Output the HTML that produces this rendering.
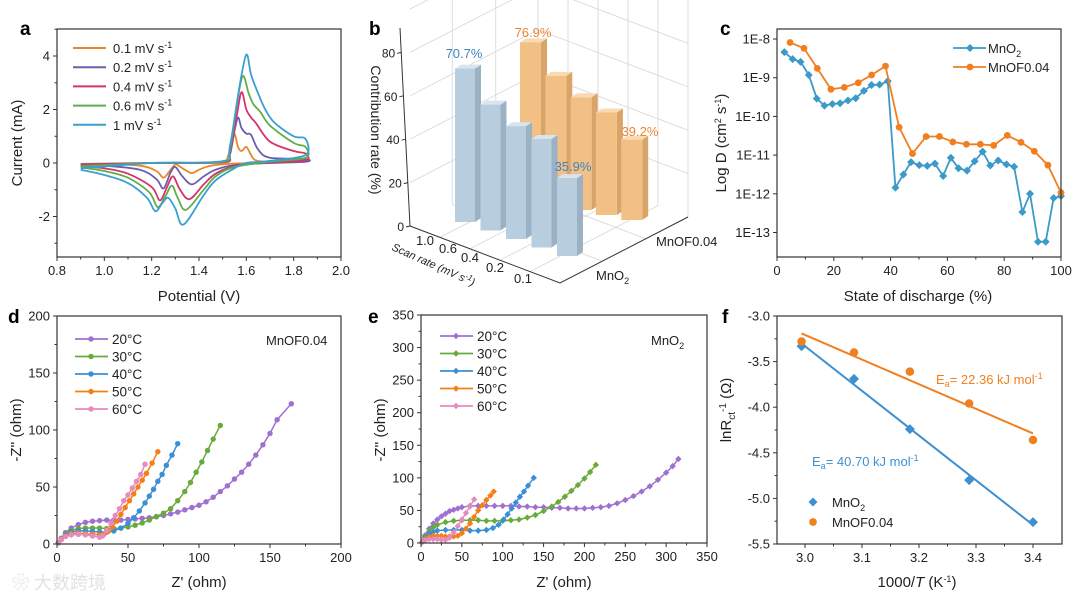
<!DOCTYPE html>
<html><head><meta charset="utf-8">
<style>
html,body{margin:0;padding:0;background:#fff;}
svg{display:block;font-family:"Liberation Sans","Noto Sans CJK SC",sans-serif;}
</style></head>
<body>
<svg id="fig" width="1080" height="602" viewBox="0 0 1080 602" xmlns="http://www.w3.org/2000/svg">
<rect x="0" y="0" width="1080" height="602" fill="#fff"/>
</svg>
<script>
// ---------- Panel a data: CV loops [V, I] ----------
const cvLabels = ["0.1 mV s","0.2 mV s","0.4 mV s","0.6 mV s","1 mV s"];
const cv01 = [[0.9,-0.03],[1.2,0.0],[1.5,0.02],[1.52,0.2],[1.54,0.8],[1.55,1.1],[1.565,0.6],[1.58,0.45],[1.60,0.6],[1.62,0.3],[1.64,0.1],[1.7,0.05],[1.85,0.1],[1.85,0.05],[1.7,0.0],[1.55,-0.02],[1.45,-0.1],[1.40,-0.25],[1.37,-0.38],[1.34,-0.25],[1.31,-0.08],[1.30,-0.05],[1.28,-0.25],[1.25,-0.55],[1.22,-0.3],[1.15,-0.1],[1.0,-0.05],[0.9,-0.05]];
const cv02 = [[0.9,-0.05],[1.2,0.0],[1.5,0.03],[1.53,0.3],[1.55,1.2],[1.565,1.7],[1.58,1.3],[1.60,1.1],[1.62,1.05],[1.65,0.5],[1.7,0.2],[1.85,0.15],[1.85,0.05],[1.7,0.0],[1.55,-0.08],[1.47,-0.25],[1.42,-0.5],[1.37,-0.8],[1.33,-0.5],[1.30,-0.15],[1.28,-0.35],[1.25,-0.95],[1.22,-0.6],[1.15,-0.25],[1.0,-0.1],[0.9,-0.08]];
const cv04 = [[0.9,-0.08],[1.2,0.0],[1.5,0.03],[1.53,0.4],[1.56,1.8],[1.58,2.65],[1.60,2.0],[1.62,1.7],[1.64,1.5],[1.7,0.8],[1.8,0.45],[1.85,0.35],[1.85,0.1],[1.7,0.03],[1.55,-0.12],[1.47,-0.4],[1.42,-0.8],[1.36,-1.35],[1.32,-1.0],[1.29,-0.5],[1.265,-0.9],[1.235,-1.4],[1.20,-0.9],[1.10,-0.4],[1.0,-0.2],[0.9,-0.12]];
const cv06 = [[0.9,-0.12],[1.2,0.0],[1.5,0.05],[1.53,0.5],[1.56,2.2],[1.585,3.25],[1.61,2.6],[1.63,2.2],[1.66,1.9],[1.7,1.4],[1.8,0.75],[1.85,0.6],[1.85,0.2],[1.7,0.05],[1.55,-0.15],[1.47,-0.5],[1.42,-1.0],[1.345,-1.75],[1.31,-1.3],[1.285,-0.85],[1.255,-1.3],[1.225,-1.65],[1.19,-1.1],[1.10,-0.55],[1.0,-0.3],[0.9,-0.17]];
const cv10 = [[0.9,-0.2],[1.2,0.0],[1.5,0.07],[1.53,0.6],[1.57,2.8],[1.60,4.05],[1.62,3.3],[1.65,2.6],[1.68,2.0],[1.72,1.5],[1.8,1.0],[1.85,0.9],[1.85,0.3],[1.7,0.08],[1.6,0.0],[1.55,-0.2],[1.47,-0.65],[1.42,-1.2],[1.335,-2.3],[1.30,-1.7],[1.27,-1.3],[1.245,-1.5],[1.215,-1.8],[1.18,-1.3],[1.10,-0.75],[1.0,-0.45],[0.9,-0.25]];

// ---------- Panel b data ----------
const scanRates = ["1.0","0.6","0.4","0.2","0.1"];
const mno2Contrib = [70.7,58,52,50,35.9];
const mnofContrib = [76.9,63,55,50,39.2];
const zTicks = [0,20,40,60,80];

// ---------- Panel c data: [SOD %, log10 D] ----------
const dMnO2 = [[2.6,-8.34],[5.5,-8.52],[8.3,-8.59],[11.2,-8.93],[14.0,-9.54],[16.7,-9.72],[19.5,-9.68],[22.2,-9.66],[25.0,-9.59],[27.7,-9.53],[30.6,-9.34],[33.3,-9.19],[36.1,-9.18],[39.0,-9.09],[41.7,-11.84],[44.5,-11.50],[47.2,-11.18],[50.1,-11.26],[52.9,-11.28],[55.6,-11.22],[58.5,-11.54],[61.2,-11.07],[63.9,-11.34],[66.9,-11.40],[69.6,-11.16],[72.4,-10.91],[75.1,-11.27],[77.9,-11.14],[80.8,-11.24],[83.5,-11.30],[86.4,-12.47],[89.1,-12.00],[91.9,-13.24],[94.6,-13.24],[97.4,-12.11],[100,-12.06]];
const dMnOF = [[4.6,-8.09],[9.5,-8.24],[14.2,-8.76],[19.0,-9.30],[23.7,-9.25],[28.6,-9.13],[33.3,-8.93],[38.2,-8.70],[43.0,-10.28],[47.7,-10.96],[52.5,-10.52],[57.2,-10.52],[61.9,-10.66],[66.7,-10.72],[71.6,-10.72],[76.3,-10.75],[81.1,-10.49],[85.9,-10.67],[90.6,-10.90],[95.4,-11.26],[100,-11.97]];

// ---------- Panel d data (MnOF0.04) ----------
const dT20 = [[1,1],[3,5],[6,10],[10,14],[15,17],[20,19],[25,20],[30,20.5],[35,21],[40,21],[45,21],[50,21.5],[55,22],[60,22.5],[65,23],[70,24],[75,25],[80,26.5],[85,28],[90,30],[95,32],[100,34],[105,37],[110,41],[115,46],[120,51],[125,57],[130,63],[135,70],[140,78],[145,87],[150,97],[155,109],[165,123]];
const dT30 = [[1,1],[3,5],[6,9],[10,12],[15,13.5],[20,14],[25,14],[30,14],[35,13.5],[40,13.5],[45,14],[50,15],[55,16.5],[60,18.5],[65,21],[70,24],[75,27],[80,31],[85,38],[90,46],[94,54],[98,63],[102,72],[106,82],[110,92],[115,104]];
const dT40 = [[1,1],[3,4],[6,8],[10,10.5],[15,11.5],[20,11.5],[25,11],[30,10.5],[35,10.5],[40,11.5],[45,14],[50,18],[54,23],[58,29],[62,36],[65,42],[68,48],[71,55],[74,61],[77,69],[81,78],[85,88]];
const dT50 = [[1,1],[3,4],[6,7],[10,9],[15,9.5],[20,9],[25,8.5],[30,8],[33,8.5],[36,11],[39,15],[42,20],[45,26],[48,32],[51,38],[54,44],[57,50],[60,56],[63,62],[67,71],[71,81]];
const dT60 = [[1,1],[3,4],[6,6.5],[10,8],[15,8.5],[20,8],[25,7],[30,6],[32,7],[35,12],[38,18],[41,25],[44,31],[47,38],[50,43],[53,49],[56,55],[59,61],[62,70]];

// ---------- Panel e data (MnO2) ----------
const eT20 = [[1,1],[5,12],[10,22],[15,30],[20,36],[25,41],[30,45],[35,49],[40,51],[45,53],[50,55],[60,57],[70,57],[80,57],[90,57],[100,57],[110,57],[120,56],[130,56],[140,55],[150,55],[160,54],[170,54],[180,53],[190,53],[200,53],[210,54],[220,55],[230,57],[240,61],[250,66],[260,72],[270,79],[280,87],[290,97],[300,108],[308,118],[315,129]];
const eT30 = [[1,1],[5,10],[10,18],[15,24],[20,28],[30,32],[40,34],[50,35],[60,35],[70,35],[80,34],[90,34],[100,34],[110,35],[120,36],[130,39],[140,43],[150,49],[160,56],[168,63],[176,71],[184,80],[192,89],[200,99],[207,109],[214,120]];
const eT40 = [[1,1],[5,8],[10,14],[15,17],[20,19],[30,20],[40,20],[50,20],[60,19],[70,19],[80,20],[88,23],[95,28],[101,36],[106,44],[111,53],[116,62],[121,71],[126,79],[131,88],[138,100]];
const eT50 = [[1,1],[5,6],[10,9],[15,11],[20,11],[25,11],[30,10],[35,10],[40,10],[45,11],[50,15],[55,22],[60,30],[65,40],[70,50],[75,58],[80,66],[85,73],[89,79]];
const eT60 = [[1,1],[5,4],[10,6],[15,6],[20,6],[25,5],[30,5],[35,8],[40,16],[45,26],[50,36],[55,46],[60,56],[65,67]];
const tempLabels = ["20°C","30°C","40°C","50°C","60°C"];

// ---------- Panel f data ----------
const invT = [2.994,3.086,3.184,3.288,3.40];
const lnMnO2 = [-3.33,-3.69,-4.24,-4.80,-5.26];
const lnMnOF = [-3.28,-3.40,-3.61,-3.96,-4.36];

const NS = "http://www.w3.org/2000/svg";
const svg = document.getElementById('fig');
function mk(tag, attrs, name, parent) {
  const el = document.createElementNS(NS, tag);
  
  
  for (const k in attrs) el.setAttribute(k, attrs[k]);
  (parent || svg).appendChild(el);
  return el;
}
function txt(x, y, s, attrs, name, parent) {
  const a = Object.assign({x:x, y:y, 'font-size':13, fill:'#222'}, attrs || {});
  const el = mk('text', a, name, parent);
  el.innerHTML = s;
  return el;
}
function lin(a0, a1, p0, p1) { return v => p0 + (v - a0) / (a1 - a0) * (p1 - p0); }
function frame(L, T, R, B, name) {
  mk('rect', {x:L, y:T, width:R-L, height:B-T, fill:'none', stroke:'#333', 'stroke-width':1.2}, name);
}
function xTicks(sx, B, vals, fmt, minors, name) {
  vals.forEach(v => {
    mk('line', {x1:sx(v), x2:sx(v), y1:B, y2:B+4, stroke:'#333', 'stroke-width':1}, name+'-tick');
    txt(sx(v), B+18, fmt(v), {'text-anchor':'middle'}, name+'-label');
  });
  minors.forEach(v => mk('line', {x1:sx(v), x2:sx(v), y1:B, y2:B+2.5, stroke:'#333', 'stroke-width':1}, name+'-minor-tick'));
}
function yTicks(sy, L, vals, fmt, minors, name) {
  vals.forEach(v => {
    mk('line', {x1:L-4, x2:L, y1:sy(v), y2:sy(v), stroke:'#333', 'stroke-width':1}, name+'-tick');
    txt(L-7, sy(v)+4.5, fmt(v), {'text-anchor':'end'}, name+'-label');
  });
  minors.forEach(v => mk('line', {x1:L-2.5, x2:L, y1:sy(v), y2:sy(v), stroke:'#333', 'stroke-width':1}, name+'-minor-tick'));
}
function smoothPath(pts) {
  let d = 'M' + pts[0][0].toFixed(1) + ',' + pts[0][1].toFixed(1);
  for (let i = 0; i < pts.length - 1; i++) {
    const p0 = pts[Math.max(0,i-1)], p1 = pts[i], p2 = pts[i+1], p3 = pts[Math.min(pts.length-1,i+2)];
    const c1 = [p1[0]+(p2[0]-p0[0])/6, p1[1]+(p2[1]-p0[1])/6];
    const c2 = [p2[0]-(p3[0]-p1[0])/6, p2[1]-(p3[1]-p1[1])/6];
    d += 'C'+c1[0].toFixed(1)+','+c1[1].toFixed(1)+' '+c2[0].toFixed(1)+','+c2[1].toFixed(1)+' '+p2[0].toFixed(1)+','+p2[1].toFixed(1);
  }
  return d;
}
function polyPts(pts) { return pts.map(p => p[0].toFixed(1)+','+p[1].toFixed(1)).join(' '); }
function marker(shape, x, y, r, color, name) {
  if (shape === 'diamond') {
    mk('polygon', {points:`${x},${y-r} ${x+r},${y} ${x},${y+r} ${x-r},${y}`, fill:color}, name);
  } else {
    mk('circle', {cx:x, cy:y, r:r*0.85, fill:color}, name);
  }
}
function letter(x, y, s, name) { txt(x, y, s, {'font-size':19, 'font-weight':'bold', fill:'#000'}, name); }
function range(a, b, s) { const r = []; for (let v = a; v <= b + 1e-9; v += s) r.push(+v.toFixed(4)); return r; }

// ================= Panel a =================
(function(){
  const L=57,R=341,T=29,B=257;
  const sx = lin(0.8, 2.0, L, R), sy = lin(0, 4, 163, 56);
  const colors = ['#e8862a','#6a5fad','#d6336c','#5fae4a','#3aa0d0'];
  const series = [cv01, cv02, cv04, cv06, cv10];
  series.forEach((s, i) => {
    const p = s.map(d => [sx(d[0]), sy(d[1])]);
    mk('path', {d:smoothPath(p), fill:'none', stroke:colors[i], 'stroke-width':1.8}, 'cv-curve-'+i);
  });
  frame(L,T,R,B,'panel-a-frame');
  xTicks(sx, B, range(0.8,2.0,0.2), v=>v.toFixed(1), range(0.9,1.9,0.2), 'a-x');
  yTicks(sy, L, [-2,0,2,4], v=>String(v), [-3,-1,1,3,5], 'a-y');
  txt(199, 301, 'Potential (V)', {'text-anchor':'middle','font-size':15}, 'a-x-title');
  txt(0,0,'Current (mA)', {'text-anchor':'middle','font-size':15, transform:'translate(22,143) rotate(-90)'}, 'a-y-title');
  cvLabels.forEach((l, i) => {
    const y = 48 + i*19.2;
    mk('line', {x1:73, x2:106, y1:y, y2:y, stroke:colors[i], 'stroke-width':2}, 'a-legend-line');
    txt(113, y+5, l+'<tspan dy="-5" font-size="9">-1</tspan>', {'font-size':13}, 'a-legend-entry');
  });
  letter(20, 35, 'a', 'panel-a-letter');
})();

// ================= Panel b (3D bars) =================
(function(){
  const O=[410,226], S=[150,57], M=[128,-66], k=2.17;
  const P = (i,j,z) => [O[0]+i*S[0]+j*M[0], O[1]+i*S[1]+j*M[1]-z*k];
  const g = '#d6d6d6';
  // wall z grid
  zTicks.concat([100]).forEach(z => {
    const a=P(0,0,z), b=P(0,1,z), c=P(1,1,z);
    if (z>0) mk('polyline', {points:polyPts([a,b,c]), fill:'none', stroke:g, 'stroke-width':0.8}, 'b-wall-gridline');
  });
  [0.33,0.67,1].forEach(j => { const a=P(0,j,0); mk('line',{x1:a[0],y1:a[1],x2:a[0],y2:0,stroke:g,'stroke-width':0.8},'b-wall-vgrid'); });
  [0.2,0.4,0.6,0.8,1].forEach(i => { const a=P(i,1,0); mk('line',{x1:a[0],y1:a[1],x2:a[0],y2:0,stroke:g,'stroke-width':0.8},'b-wall-vgrid'); });
  // floor grid
  [0.2,0.4,0.6,0.8].forEach(i => { const a=P(i,0,0), b=P(i,1,0); mk('line',{x1:a[0],y1:a[1],x2:b[0],y2:b[1],stroke:g,'stroke-width':0.8},'b-floor-grid'); });
  [0.33,0.67].forEach(j => { const a=P(0,j,0), b=P(1,j,0); mk('line',{x1:a[0],y1:a[1],x2:b[0],y2:b[1],stroke:g,'stroke-width':0.8},'b-floor-grid'); });
  // axes
  const o=P(0,0,0), s1=P(1,0,0), m1=P(1,1,0);
  mk('line',{x1:o[0],y1:o[1],x2:400,y2:28,stroke:'#333','stroke-width':1},'b-z-axis');
  mk('polyline',{points:polyPts([o,s1,m1]),fill:'none',stroke:'#333','stroke-width':1},'b-floor-axes');
  zTicks.forEach(z => {
    const y = o[1]-z*k, x = o[0] - z*0.11;
    mk('line',{x1:x-4,y1:y+1,x2:x,y2:y,stroke:'#333'},'b-z-tick');
    txt(x-6, y+5, String(z), {'text-anchor':'end','font-size':12}, 'b-z-label');
  });
  txt(0,0,'Contribution rate (%)',{'text-anchor':'middle','font-size':14,transform:'translate(371,130) rotate(90)'},'b-z-title');
  const scanPos = [[425,245],[448,253],[470,262],[495,272],[523,283]];
  scanRates.forEach((r,i)=> txt(scanPos[i][0], scanPos[i][1], r, {'text-anchor':'middle','font-size':13}, 'b-scan-label'));
  txt(0,0,'Scan rate (mV s<tspan dy="-4" font-size="8">-1</tspan><tspan dy="4">)</tspan>',{'text-anchor':'middle','font-size':11,'font-style':'italic',transform:'translate(432,268) rotate(24)'},'b-scan-title');
  txt(596, 280, 'MnO<tspan dy="4" font-size="9">2</tspan>', {'font-size':13}, 'b-mno2-label');
  txt(656, 246, 'MnOF0.04', {'font-size':13}, 'b-mnof-label');
  function bar(xl, yb, v, w, cols, name, sc) {
    const h = v*sc, dx=6, dy=-4;
    mk('polygon',{points:polyPts([[xl+w,yb],[xl+w+dx,yb+dy],[xl+w+dx,yb-h+dy],[xl+w,yb-h]]),fill:cols[1]},name+'-side');
    mk('polygon',{points:polyPts([[xl,yb-h],[xl+w,yb-h],[xl+w+dx,yb-h+dy],[xl+dx,yb-h+dy]]),fill:cols[2]},name+'-top');
    mk('rect',{x:xl,y:yb-h,width:w,height:h,fill:cols[0]},name+'-front');
  }
  mnofContrib.forEach((v,i)=> bar(520+25.3*i, 200+5*i, v, 21, ['#f2c085','#d9a468','#f8dab3'], 'b-bar-mnof-'+i, 2.05));
  mno2Contrib.forEach((v,i)=> bar(455+25.5*i, 222+8.5*i, v, 20, ['#b8cedf','#9bb1c4','#d8e5ef'], 'b-bar-mno2-'+i, 2.17));
  txt(464, 58, mno2Contrib[0].toFixed(1)+'%', {'text-anchor':'middle','fill':'#3d85c0'}, 'b-value-label');
  txt(533, 37, mnofContrib[0].toFixed(1)+'%', {'text-anchor':'middle','fill':'#e8863a'}, 'b-value-label');
  txt(573, 171, mno2Contrib[4].toFixed(1)+'%', {'text-anchor':'middle','fill':'#3d85c0'}, 'b-value-label');
  txt(640, 136, mnofContrib[4].toFixed(1)+'%', {'text-anchor':'middle','fill':'#e8863a'}, 'b-value-label');
  letter(369, 35, 'b', 'panel-b-letter');
})();

// ================= Panel c =================
(function(){
  const L=777,R=1061,T=29,B=257;
  const sx = lin(0,100,L,R), sy = lin(-8, -13, 39, 232.5);
  const sets = [[dMnO2,'#3a9ac9','diamond','MnO2'],[dMnOF,'#f07f1f','circle','MnOF']];
  sets.forEach(([d,c,sh,n]) => {
    const p = d.map(q=>[sx(q[0]),sy(q[1])]);
    mk('polyline',{points:polyPts(p),fill:'none',stroke:c,'stroke-width':1.8},'c-line-'+n);
    p.forEach(q=>marker(sh,q[0],q[1],4,c,'c-point-'+n));
  });
  frame(L,T,R,B,'panel-c-frame');
  xTicks(sx,B,[0,20,40,60,80,100],v=>String(v),[10,30,50,70,90],'c-x');
  yTicks(sy,L,[-8,-9,-10,-11,-12,-13],v=>'1E'+v,[],'c-y');
  txt(918,301,'State of discharge (%)',{'text-anchor':'middle','font-size':15},'c-x-title');
  txt(0,0,'Log D (cm<tspan dy="-5" font-size="9">2</tspan><tspan dy="5"> s</tspan><tspan dy="-5" font-size="9">-1</tspan><tspan dy="5">)</tspan>',{'text-anchor':'middle','font-size':15,transform:'translate(726,143) rotate(-90)'},'c-y-title');
  mk('line',{x1:953,x2:986,y1:48,y2:48,stroke:'#3a9ac9','stroke-width':1.8},'c-legend-line');
  marker('diamond',970,48,4,'#3a9ac9','c-legend-marker');
  txt(988,53,'MnO<tspan dy="4" font-size="9">2</tspan>',{},'c-legend-entry');
  mk('line',{x1:953,x2:986,y1:67,y2:67,stroke:'#f07f1f','stroke-width':1.8},'c-legend-line');
  marker('circle',970,67,4,'#f07f1f','c-legend-marker');
  txt(988,72,'MnOF0.04',{},'c-legend-entry');
  letter(720, 35, 'c', 'panel-c-letter');
})();

// ================= Panels d, e =================
const tColors = ['#a070d0','#6aaa3a','#3a8fd6','#f57f17','#e68ac0'];
function nyquist(L,T,R,B,max,series,shape,pname,legY,legX,tag,tagX) {
  const sx = lin(0,max,L,R), sy = lin(0,max,B,T);
  series.forEach((d,i)=>{
    const p = d.map(q=>[sx(q[0]),sy(q[1])]);
    mk('polyline',{points:polyPts(p),fill:'none',stroke:tColors[i],'stroke-width':1.5},pname+'-line-'+i);
    p.forEach(q=>marker(shape,q[0],q[1],3.2,tColors[i],pname+'-point'));
  });
  frame(L,T,R,B,pname+'-frame');
  xTicks(sx,B,range(0,max,50),v=>String(v),range(25,max-25,50),pname+'-x');
  yTicks(sy,L,range(0,max,50),v=>String(v),range(25,max-25,50),pname+'-y');
  txt((L+R)/2,587,"Z' (ohm)",{'text-anchor':'middle','font-size':15},pname+'-x-title');
  txt(0,0,"-Z'' (ohm)",{'text-anchor':'middle','font-size':15,transform:`translate(${L-36},430) rotate(-90)`},pname+'-y-title');
  tempLabels.forEach((l,i)=>{
    const y = legY + i*17.5;
    mk('line',{x1:legX,x2:legX+33,y1:y,y2:y,stroke:tColors[i],'stroke-width':1.8},pname+'-legend-line');
    marker(shape,legX+16,y,3.2,tColors[i],pname+'-legend-marker');
    txt(legX+37,y+5,l,{'font-size':13.5},pname+'-legend-entry');
  });
  txt(tagX,345,tag,{'font-size':13},pname+'-sample-label');
}
nyquist(57,316,341,544,200,[dT20,dT30,dT40,dT50,dT60],'circle','d',339,75,'MnOF0.04',266);
nyquist(421,315,707,543,350,[eT20,eT30,eT40,eT50,eT60],'diamond','e',336,440,'MnO<tspan dy="4" font-size="9">2</tspan>',651);
letter(8, 323, 'd', 'panel-d-letter');
letter(368, 323, 'e', 'panel-e-letter');

// ================= Panel f =================
(function(){
  const L=777,R=1062,T=316,B=544;
  const sx = lin(3.0,3.4,805,1033), sy = lin(-3.0,-5.5,T,B);
  function fit(ys) {
    const n=invT.length, mx=invT.reduce((a,b)=>a+b)/n, my=ys.reduce((a,b)=>a+b)/n;
    let sxy=0,sxx=0; invT.forEach((x,i)=>{sxy+=(x-mx)*(ys[i]-my); sxx+=(x-mx)*(x-mx);});
    const m=sxy/sxx; return x=>my+m*(x-mx);
  }
  [[lnMnO2,'#3f90d0','diamond','mno2'],[lnMnOF,'#f07f1f','circle','mnof']].forEach(([ys,c,sh,n])=>{
    const f = fit(ys), x0=invT[0], x1=invT[invT.length-1];
    mk('line',{x1:sx(x0),y1:sy(f(x0)),x2:sx(x1),y2:sy(f(x1)),stroke:c,'stroke-width':2},'f-fit-'+n);
    ys.forEach((y,i)=>marker(sh,sx(invT[i]),sy(y),5,c,'f-point-'+n));
  });
  frame(L,T,R,B,'panel-f-frame');
  xTicks(sx,B,[3.0,3.1,3.2,3.3,3.4],v=>v.toFixed(1),[3.05,3.15,3.25,3.35],'f-x');
  yTicks(sy,L,[-3.0,-3.5,-4.0,-4.5,-5.0,-5.5],v=>v.toFixed(1),[-3.25,-3.75,-4.25,-4.75,-5.25],'f-y');
  txt(917,587,'1000/<tspan font-style="italic">T</tspan> (K<tspan dy="-5" font-size="9">-1</tspan><tspan dy="5">)</tspan>',{'text-anchor':'middle','font-size':15},'f-x-title');
  txt(0,0,'lnR<tspan dy="4" font-size="10">ct</tspan><tspan dy="-9" font-size="10">-1</tspan><tspan dy="5"> (Ω)</tspan>',{'text-anchor':'middle','font-size':15,transform:'translate(731,410) rotate(-90)'},'f-y-title');
  txt(936,384,'E<tspan dy="3" font-size="9">a</tspan><tspan dy="-3">= 22.36 kJ mol</tspan><tspan dy="-5" font-size="9">-1</tspan>',{'fill':'#f07f1f','font-size':13},'f-ea-mnof');
  txt(812,466,'E<tspan dy="3" font-size="9">a</tspan><tspan dy="-3">= 40.70 kJ mol</tspan><tspan dy="-5" font-size="9">-1</tspan>',{'fill':'#3f90d0','font-size':13},'f-ea-mno2');
  marker('diamond',813,502,4.5,'#3f90d0','f-legend-marker');
  txt(832,507,'MnO<tspan dy="4" font-size="9">2</tspan>',{},'f-legend-entry');
  marker('circle',813,522,4.5,'#f07f1f','f-legend-marker');
  txt(832,527,'MnOF0.04',{},'f-legend-entry');
  letter(722, 323, 'f', 'panel-f-letter');
})();

// watermark
txt(12, 589, '\u2740 大数跨境', {'font-size':18, fill:'#e2e2e2', 'font-family':'"Noto Sans CJK SC", sans-serif'}, 'watermark');
</script>
</body></html>
